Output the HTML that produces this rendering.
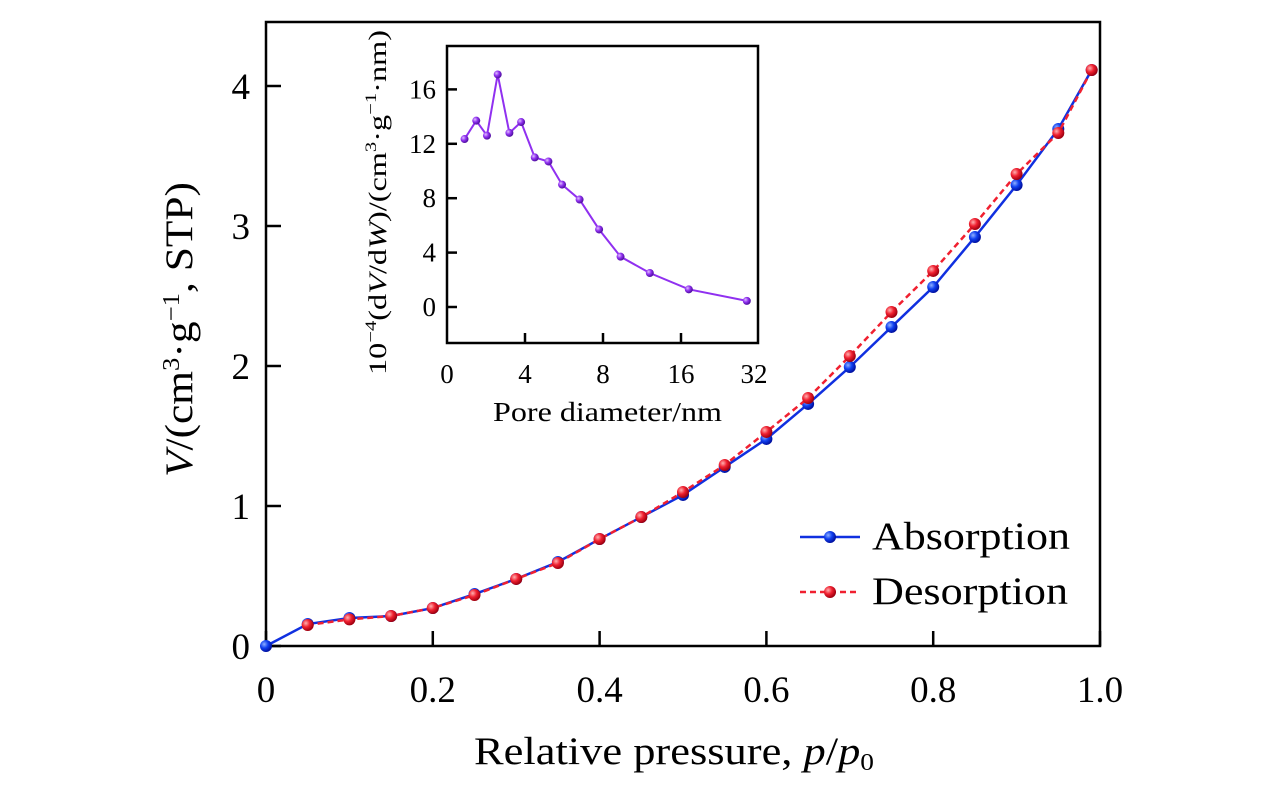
<!DOCTYPE html>
<html><head><meta charset="utf-8"><style>
body{margin:0;background:#fff}
svg text{font-family:"Liberation Serif",serif;fill:#000}
</style></head><body>
<svg width="1276" height="787" viewBox="0 0 1276 787" xmlns="http://www.w3.org/2000/svg">
<defs>
<radialGradient id="gb" cx="35%" cy="35%" r="65%"><stop offset="0" stop-color="#8fb0ff"/><stop offset="0.5" stop-color="#1040f0"/><stop offset="1" stop-color="#0010a0"/></radialGradient>
<radialGradient id="gr" cx="35%" cy="35%" r="65%"><stop offset="0" stop-color="#ffb0b0"/><stop offset="0.5" stop-color="#f02030"/><stop offset="1" stop-color="#a00010"/></radialGradient>
<radialGradient id="gp" cx="35%" cy="35%" r="65%"><stop offset="0" stop-color="#e0c0ff"/><stop offset="0.5" stop-color="#9030f0"/><stop offset="1" stop-color="#5010a0"/></radialGradient>
</defs>
<g id="main"></g>
<g id="inset"></g>
</svg>
<script>
const pAds=[0,0.05,0.1,0.15,0.2,0.25,0.3,0.35,0.4,0.45,0.5,0.55,0.6,0.65,0.7,0.75,0.8,0.85,0.9,0.95,0.99];
const vAds=[0,0.157,0.2,0.214,0.271,0.371,0.479,0.6,0.764,0.921,1.079,1.279,1.479,1.729,1.993,2.279,2.564,2.921,3.293,3.693,4.114];
const pDes=[0.05,0.1,0.15,0.2,0.25,0.3,0.35,0.4,0.45,0.5,0.55,0.6,0.65,0.7,0.75,0.8,0.85,0.9,0.95,0.99];
const vDes=[0.15,0.19,0.214,0.271,0.364,0.479,0.593,0.764,0.921,1.1,1.293,1.529,1.771,2.071,2.386,2.679,3.014,3.371,3.664,4.114];
const xTicks=[0,0.2,0.4,0.6,0.8,1.0];
const xTickLabels=["0","0.2","0.4","0.6","0.8","1.0"];
const yTicks=[0,1,2,3,4];
const dIn=[0.9,1.5,2.05,2.6,3.2,3.8,4.5,5.2,5.9,6.8,7.8,9.8,12.8,17.6,29.5];
const vIn=[12.35,13.7,12.6,17.1,12.8,13.6,11.0,10.7,9.0,7.9,5.7,3.7,2.5,1.3,0.45];
const inXTicks=[0,4,8,16,32];
const inYTicks=[0,4,8,12,16];

const NS="http://www.w3.org/2000/svg";
function mk(parent,tag,attrs,text){const e=document.createElementNS(NS,tag);for(const k in attrs)e.setAttribute(k,attrs[k]);if(text!==undefined)e.textContent=text;parent.appendChild(e);return e;}
const X=p=>266+p*834;
const Y=v=>646-v*140;
const M=document.getElementById('main');
let f=mk(M,'rect',{x:266,y:22,width:834,height:624,fill:'none',stroke:'#000','stroke-width':2.5});

xTicks.forEach((t,i)=>{
 let l=mk(M,'line',{x1:X(t),x2:X(t),y1:646,y2:631,stroke:'#000','stroke-width':2.5});
 
 let tx=mk(M,'text',{x:X(t),y:702,'text-anchor':'middle','font-size':37},xTickLabels[i]);
 
});
yTicks.forEach(t=>{
 let l=mk(M,'line',{x1:266,x2:281,y1:Y(t),y2:Y(t),stroke:'#000','stroke-width':2.5});
 
 let tx=mk(M,'text',{x:250,y:Y(t)+13,'text-anchor':'end','font-size':37},String(t));
 
});
let xl=mk(M,'text',{x:474,y:764,'font-size':39,textLength:400,lengthAdjust:'spacingAndGlyphs'});
xl.innerHTML='Relative pressure, <tspan font-style="italic">p</tspan>/<tspan font-style="italic">p</tspan><tspan font-size="24" dy="6">0</tspan>';

let yl=mk(M,'text',{x:0,y:0,'font-size':39,textLength:295,lengthAdjust:'spacingAndGlyphs',transform:'translate(192,477) rotate(-90)'});
yl.innerHTML='<tspan font-style="italic">V</tspan>/(cm<tspan font-size="24" dy="-13">3</tspan><tspan dy="13">·g</tspan><tspan font-size="24" dy="-13">−1</tspan><tspan dy="13">, STP)</tspan>';

let la=mk(M,'polyline',{points:pAds.map((p,i)=>X(p)+','+Y(vAds[i])).join(' '),fill:'none',stroke:'#1030e0','stroke-width':2.5});

pAds.forEach((p,i)=>{let c=mk(M,'circle',{cx:X(p),cy:Y(vAds[i]),r:6,fill:'url(#gb)'});});
let ld=mk(M,'polyline',{points:pDes.map((p,i)=>X(p)+','+Y(vDes[i])).join(' '),fill:'none',stroke:'#f02030','stroke-width':2.5,'stroke-dasharray':'6,4'});

pDes.forEach((p,i)=>{let c=mk(M,'circle',{cx:X(p),cy:Y(vDes[i]),r:6,fill:'url(#gr)'});});
let lg=mk(M,'g',{});
let e1=mk(lg,'g',{});
mk(e1,'line',{x1:800,x2:860,y1:537,y2:537,stroke:'#1030e0','stroke-width':2.5});
mk(e1,'circle',{cx:830,cy:537,r:6,fill:'url(#gb)'});
mk(e1,'text',{x:872,y:549,'font-size':39,textLength:198,lengthAdjust:'spacingAndGlyphs'},'Absorption');
let e2=mk(lg,'g',{});
mk(e2,'line',{x1:800,x2:860,y1:592,y2:592,stroke:'#f02030','stroke-width':2.5,'stroke-dasharray':'6,4'});
mk(e2,'circle',{cx:830,cy:592,r:6,fill:'url(#gr)'});
mk(e2,'text',{x:872,y:604,'font-size':39,textLength:196,lengthAdjust:'spacingAndGlyphs'},'Desorption');

// inset
const I=document.getElementById('inset');
const XI=d=>{for(let k=0;k<inXTicks.length-1;k++){if(d<=inXTicks[k+1]){return 447+78*(k+(d-inXTicks[k])/(inXTicks[k+1]-inXTicks[k]));}}return 447+78*4;};
const YI=v=>307-v*13.6;
let fi=mk(I,'rect',{x:447,y:46,width:311,height:297,fill:'#fff',stroke:'#000','stroke-width':2.5});

inXTicks.forEach(t=>{
 if(t!==0&&t!==32){let l=mk(I,'line',{x1:XI(t),x2:XI(t),y1:343,y2:333,stroke:'#000','stroke-width':2.5});}
 let tx=mk(I,'text',{x:XI(t)-(t===32?5:0),y:383,'text-anchor':'middle','font-size':27},String(t));
 
});
inYTicks.forEach(t=>{
 let l=mk(I,'line',{x1:447,x2:457,y1:YI(t),y2:YI(t),stroke:'#000','stroke-width':2.5});
 let tx=mk(I,'text',{x:436,y:YI(t)+9,'text-anchor':'end','font-size':27},String(t));
 
});
let ixl=mk(I,'text',{x:493,y:421,'font-size':27,textLength:229,lengthAdjust:'spacingAndGlyphs'},'Pore diameter/nm');

let iyl=mk(I,'text',{x:0,y:0,'font-size':25,textLength:345,lengthAdjust:'spacingAndGlyphs',transform:'translate(386,375) rotate(-90)'});
iyl.innerHTML='10<tspan font-size="16" dy="-10">−4</tspan><tspan dy="10">(d</tspan><tspan font-style="italic">V</tspan>/d<tspan font-style="italic">W</tspan>)/(cm<tspan font-size="16" dy="-10">3</tspan><tspan dy="10">·g</tspan><tspan font-size="16" dy="-10">−1</tspan><tspan dy="10">·nm)</tspan>';

let il=mk(I,'polyline',{points:dIn.map((d,i)=>XI(d)+','+YI(vIn[i])).join(' '),fill:'none',stroke:'#9030f0','stroke-width':2});

dIn.forEach((d,i)=>{let c=mk(I,'circle',{cx:XI(d),cy:YI(vIn[i]),r:4,fill:'url(#gp)'});});
</script>
</body></html>
